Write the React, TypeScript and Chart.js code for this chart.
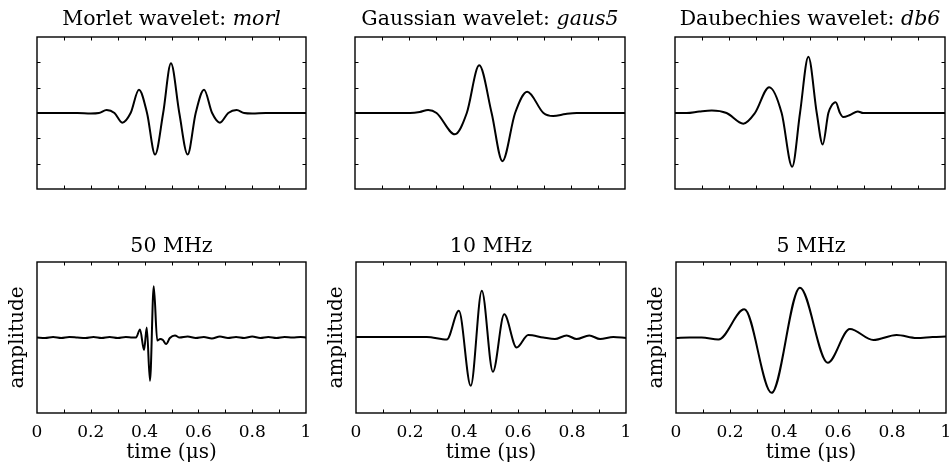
import React, { useEffect, useRef } from "react";
import { Chart, registerables } from "chart.js";

Chart.register(...registerables);

// ---------- data (time normalised to 0..1, amplitude normalised) ----------
const morlT = [0, 0.15, 0.2, 0.23, 0.259, 0.288, 0.317, 0.348, 0.379, 0.409, 0.439, 0.469, 0.498, 0.529, 0.56, 0.59, 0.621, 0.651, 0.68, 0.711, 0.742, 0.77, 0.8, 0.85, 1];
const morlA = [0, 0, -0.01, 0, 0.06, 0, -0.19, 0, 0.46, 0, -0.82, 0, 0.98, 0, -0.82, 0, 0.46, 0, -0.19, 0, 0.06, 0, -0.01, 0, 0];

const gausT = [0, 0.15, 0.204, 0.24, 0.271, 0.302, 0.37, 0.414, 0.46, 0.506, 0.546, 0.593, 0.638, 0.698, 0.734, 0.78, 0.821, 0.9, 1];
const gausA = [0, 0, 0, 0.02, 0.06, 0, -0.42, 0, 0.94, 0, -0.95, 0, 0.42, 0, -0.06, -0.02, 0, 0, 0];

const db6T = [0, 0.043, 0.09, 0.136, 0.191, 0.253, 0.296, 0.349, 0.395, 0.434, 0.463, 0.494, 0.525, 0.547, 0.568, 0.578, 0.595, 0.611, 0.623, 0.648, 0.677, 0.697, 0.8, 1];
const db6A = [0, 0, 0.03, 0.05, 0, -0.21, 0, 0.51, 0, -1.06, 0, 1.11, 0, -0.62, 0, 0.13, 0.21, 0, -0.08, -0.04, 0.03, 0, 0, 0];

const mhz50T = [0, 0.03, 0.06, 0.09, 0.12, 0.15, 0.18, 0.21, 0.24, 0.27, 0.3, 0.33, 0.355, 0.368, 0.383, 0.398, 0.408, 0.42, 0.434, 0.447, 0.458, 0.468, 0.48, 0.494, 0.513, 0.53, 0.56, 0.59, 0.62, 0.65, 0.68, 0.71, 0.74, 0.77, 0.8, 0.83, 0.86, 0.89, 0.92, 0.95, 0.98, 1];
const mhz50A = [0, -0.01, 0.01, -0.01, 0.01, 0, -0.01, 0.01, -0.01, 0.01, -0.01, 0.01, 0, 0, 0.16, -0.25, 0.2, -0.86, 1.02, -0.06, -0.03, -0.05, -0.13, -0.01, 0.04, 0, 0.02, -0.01, 0.01, -0.02, 0.02, -0.01, 0.01, -0.01, 0.02, -0.01, 0.01, -0.01, 0.01, 0, 0.01, 0];

const mhz10T = [0, 0.1, 0.2, 0.262, 0.336, 0.381, 0.425, 0.466, 0.507, 0.549, 0.595, 0.638, 0.694, 0.737, 0.78, 0.817, 0.864, 0.904, 0.953, 1];
const mhz10A = [0.01, 0.01, 0.01, 0.01, -0.04, 0.53, -0.96, 0.93, -0.68, 0.46, -0.2, 0.05, 0, -0.03, 0.04, -0.03, 0.04, -0.03, 0.01, -0.01];

const mhz5T = [0, 0.05, 0.095, 0.157, 0.253, 0.354, 0.459, 0.562, 0.644, 0.731, 0.817, 0.891, 0.95, 1];
const mhz5A = [-0.01, 0, 0, -0.04, 0.56, -1.1, 0.99, -0.5, 0.17, -0.05, 0.05, -0.01, 0.01, 0.02];

const xTickValues = [0, 0.2, 0.4, 0.6, 0.8, 1];

// ---------- layout ----------
const FONT = "'DejaVu Serif', 'Liberation Serif', serif";

type Part = { text: string; italic?: boolean };
type PanelCfg = {
  title: Part[];
  t: number[];
  a: number[];
  cell: number[]; // x0, y0, x1, y1
  area: number[]; // l, t, r, b
  bottom: boolean;
  titleGap: number;
};

const panels: PanelCfg[] = [
  { title: [{ text: "Morlet wavelet: " }, { text: "morl", italic: true }], t: morlT, a: morlA, cell: [0, 0, 316, 205], area: [37, 37, 306, 189], bottom: false, titleGap: 12 },
  { title: [{ text: "Gaussian wavelet: " }, { text: "gaus5", italic: true }], t: gausT, a: gausA, cell: [318, 0, 636, 205], area: [355, 37, 625, 189], bottom: false, titleGap: 12 },
  { title: [{ text: "Daubechies wavelet: " }, { text: "db6", italic: true }], t: db6T, a: db6A, cell: [638, 0, 952, 205], area: [675, 37, 945, 189], bottom: false, titleGap: 12 },
  { title: [{ text: "50 MHz" }], t: mhz50T, a: mhz50A, cell: [0, 215, 316, 473], area: [37, 262, 306, 413], bottom: true, titleGap: 10 },
  { title: [{ text: "10 MHz" }], t: mhz10T, a: mhz10A, cell: [319, 215, 636, 473], area: [356, 262, 626, 413], bottom: true, titleGap: 10 },
  { title: [{ text: "5 MHz" }], t: mhz5T, a: mhz5A, cell: [639, 215, 952, 473], area: [676, 262, 946, 413], bottom: true, titleGap: 10 },
];

const Y_TITLE_W = 31; // 24 line + 7 padding
const X_AXIS_H = 60;

const framePlugin = {
  id: "frame",
  afterDatasetsDraw(chart: any, _args: any, opts: any) {
    const { ctx, chartArea: a, scales } = chart;
    ctx.save();
    ctx.strokeStyle = "#000";
    ctx.lineWidth = 1.4;
    ctx.strokeRect(a.left, a.top, a.right - a.left, a.bottom - a.top);
    ctx.lineWidth = 1;
    const L = 3.5;
    ctx.beginPath();
    scales.x.ticks.forEach((tk: any) => {
      const px = Math.round(scales.x.getPixelForValue(tk.value)) + 0.5;
      if (px <= a.left + 2 || px >= a.right - 2) return;
      ctx.moveTo(px, a.bottom);
      ctx.lineTo(px, a.bottom - L);
      ctx.moveTo(px, a.top);
      ctx.lineTo(px, a.top + L);
    });
    if (opts.yTicks) {
      scales.y.ticks.forEach((tk: any) => {
        const py = Math.round(scales.y.getPixelForValue(tk.value)) + 0.5;
        if (py <= a.top + 2 || py >= a.bottom - 2) return;
        ctx.moveTo(a.left, py);
        ctx.lineTo(a.left + L, py);
        ctx.moveTo(a.right, py);
        ctx.lineTo(a.right - L, py);
      });
    }
    ctx.stroke();
    // title with mixed upright / italic parts
    const parts: Part[] = opts.title || [];
    const fontOf = (p: Part) => `${p.italic ? "italic " : ""}20.5px ${FONT}`;
    let total = 0;
    const widths = parts.map((p) => {
      ctx.font = fontOf(p);
      const w = ctx.measureText(p.text).width;
      total += w;
      return w;
    });
    let x = (a.left + a.right) / 2 - total / 2;
    const y = a.top - opts.titleGap;
    ctx.fillStyle = "#000";
    ctx.textBaseline = "alphabetic";
    ctx.textAlign = "left";
    parts.forEach((p, i) => {
      ctx.font = fontOf(p);
      ctx.fillText(p.text, x, y);
      x += widths[i];
    });
    ctx.restore();
  },
};

function Panel({ cfg }: { cfg: PanelCfg }) {
  const ref = useRef<HTMLCanvasElement | null>(null);
  const [x0, y0, x1, y1] = cfg.cell;
  const [l, t, r, b] = cfg.area;
  const w = x1 - x0;
  const h = y1 - y0;

  useEffect(() => {
    if (!ref.current) return;
    const padding = cfg.bottom
      ? { left: l - x0 - Y_TITLE_W, top: t - y0, right: x1 - r, bottom: y1 - b - X_AXIS_H }
      : { left: l - x0, top: t - y0, right: x1 - r, bottom: y1 - b };
    const chart = new Chart(ref.current, {
      type: "line",
      data: {
        datasets: [
          {
            data: cfg.t.map((tt, i) => ({ x: tt, y: cfg.a[i] })),
            borderColor: "#000",
            borderWidth: 2,
            pointRadius: 0,
            fill: false,
            cubicInterpolationMode: "monotone",
          },
        ],
      },
      options: {
        animation: false,
        responsive: false,
        devicePixelRatio: 1,
        layout: { padding },
        plugins: {
          legend: { display: false },
          tooltip: { enabled: false },
          title: { display: false },
          frame: { yTicks: !cfg.bottom, title: cfg.title, titleGap: cfg.titleGap },
        } as any,
        scales: {
          x: {
            type: "linear",
            min: 0,
            max: 1,
            grid: { display: false, drawTicks: false, tickLength: 0 },
            border: { display: false },
            afterFit: (s: any) => {
              s.paddingLeft = 0;
              s.paddingRight = 0;
              if (cfg.bottom) s.height = X_AXIS_H;
            },
            ticks: {
              display: cfg.bottom,
              stepSize: 0.1,
              autoSkip: false,
              maxRotation: 0,
              padding: 9,
              color: "#000",
              font: { family: FONT, size: 17 },
              callback: (v: any) => {
                const n = Math.round(Number(v) * 10) / 10;
                return xTickValues.some((q) => Math.abs(q - n) < 1e-6) ? String(n) : "";
              },
            },
            title: {
              display: cfg.bottom,
              text: "time (μs)",
              color: "#000",
              font: { family: FONT, size: 20 },
              padding: { top: 0, bottom: 8 },
            },
          },
          y: {
            type: "linear",
            min: -1.5,
            max: 1.5,
            grid: { display: false, drawTicks: false, tickLength: 0 },
            border: { display: false },
            afterFit: (s: any) => {
              s.paddingTop = 0;
              s.paddingBottom = 0;
              if (cfg.bottom) s.width = Y_TITLE_W;
            },
            ticks: { display: false, stepSize: 0.5 },
            title: {
              display: cfg.bottom,
              text: "amplitude",
              color: "#000",
              font: { family: FONT, size: 20 },
              padding: { top: 0, bottom: 7 },
            },
          },
        },
      },
      plugins: [framePlugin],
    } as any);
    return () => chart.destroy();
  }, []);

  return (
    <canvas
      ref={ref}
      width={w}
      height={h}
      style={{ position: "absolute", left: x0, top: y0, width: w, height: h }}
    />
  );
}

export default function App() {
  return (
    <div style={{ position: "absolute", left: 0, top: 0, width: 952, height: 473, background: "#fff" }}>
      {panels.map((p, i) => (
        <Panel key={i} cfg={p} />
      ))}
    </div>
  );
}
